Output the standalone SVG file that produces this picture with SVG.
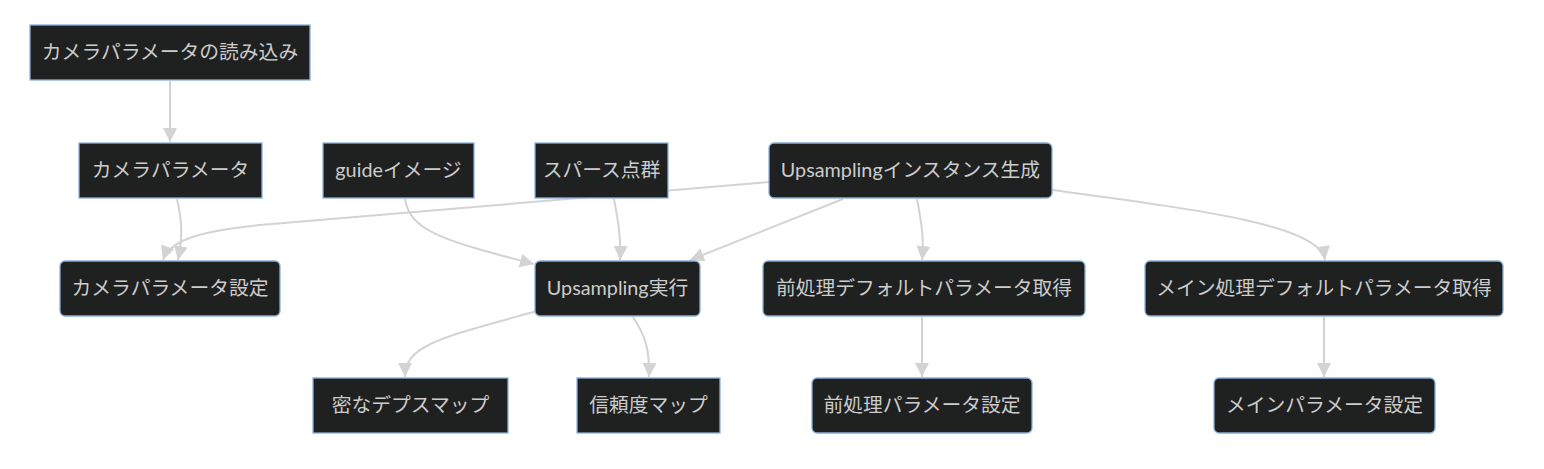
<svg xmlns="http://www.w3.org/2000/svg" width="1544" height="469" viewBox="0 0 1544 469">
<style>
.n rect{fill:#1f2020;stroke:#8ab0da;stroke-width:1.3}
.n text{fill:#cccccc;font-family:Lato,"Noto Sans CJK JP",sans-serif;font-size:19.8px;text-anchor:middle}
.e path{fill:none;stroke:#d3d3d3;stroke-width:2}
</style>
<defs>
<marker id="ah" markerUnits="userSpaceOnUse" markerWidth="14" markerHeight="14" viewBox="0 0 10 10" refX="10" refY="5" orient="auto">
<path d="M0,0 L10,5 L0,10 z" fill="#d3d3d3"/>
</marker>
</defs>
<rect width="1544" height="469" fill="#ffffff"/>
<g id="edges" class="e">
<path d="M170,81 L170,142" marker-end="url(#ah)"/>
<path d="M177,199 C183,225 182,240 178,260" marker-end="url(#ah)"/>
<path d="M769,182 L260,225 C200,231 170,240 163,260" marker-end="url(#ah)"/>
<path d="M405,199 C410,230 440,240 534,264" marker-end="url(#ah)"/>
<path d="M614,199 C619,225 621,240 620,260" marker-end="url(#ah)"/>
<path d="M843,199 L690,260" marker-end="url(#ah)"/>
<path d="M917,199 C922,225 924,240 922,260" marker-end="url(#ah)"/>
<path d="M1052,190 C1200,210 1320,225 1325,260" marker-end="url(#ah)"/>
<path d="M537,311 C440,338 405,345 405,377" marker-end="url(#ah)"/>
<path d="M633,317 C645,335 650,350 649,377" marker-end="url(#ah)"/>
<path d="M922,317 L922,377" marker-end="url(#ah)"/>
<path d="M1324,317 L1324,377" marker-end="url(#ah)"/>
</g>
<g id="n1" class="n"><rect x="30" y="25" width="280" height="55"/><text x="170" y="59">カメラパラメータの読み込み</text></g>
<g id="n2" class="n"><rect x="79" y="143" width="183" height="55"/><text x="170.5" y="177">カメラパラメータ</text></g>
<g id="n3" class="n"><rect x="323" y="143" width="151" height="55"/><text x="398.5" y="177">guideイメージ</text></g>
<g id="n4" class="n"><rect x="535" y="143" width="133" height="55"/><text x="601.5" y="177">スパース点群</text></g>
<g id="n5" class="n"><rect x="769" y="143" width="283" height="55" rx="5"/><text x="910.5" y="177">Upsamplingインスタンス生成</text></g>
<g id="n6" class="n"><rect x="60" y="261" width="220" height="55" rx="5"/><text x="170" y="295">カメラパラメータ設定</text></g>
<g id="n7" class="n"><rect x="535" y="261" width="165" height="55" rx="5"/><text x="617.5" y="295">Upsampling実行</text></g>
<g id="n8" class="n"><rect x="763" y="261" width="322" height="55" rx="5"/><text x="924" y="295">前処理デフォルトパラメータ取得</text></g>
<g id="n9" class="n"><rect x="1145" y="261" width="358" height="55" rx="5"/><text x="1324" y="295">メイン処理デフォルトパラメータ取得</text></g>
<g id="n10" class="n"><rect x="313" y="378" width="195" height="55"/><text x="410.5" y="412">密なデプスマップ</text></g>
<g id="n11" class="n"><rect x="577" y="378" width="143" height="55"/><text x="648.5" y="412">信頼度マップ</text></g>
<g id="n12" class="n"><rect x="812" y="378" width="220" height="55" rx="5"/><text x="922" y="412">前処理パラメータ設定</text></g>
<g id="n13" class="n"><rect x="1214" y="378" width="221" height="55" rx="5"/><text x="1324.5" y="412">メインパラメータ設定</text></g>
</svg>
